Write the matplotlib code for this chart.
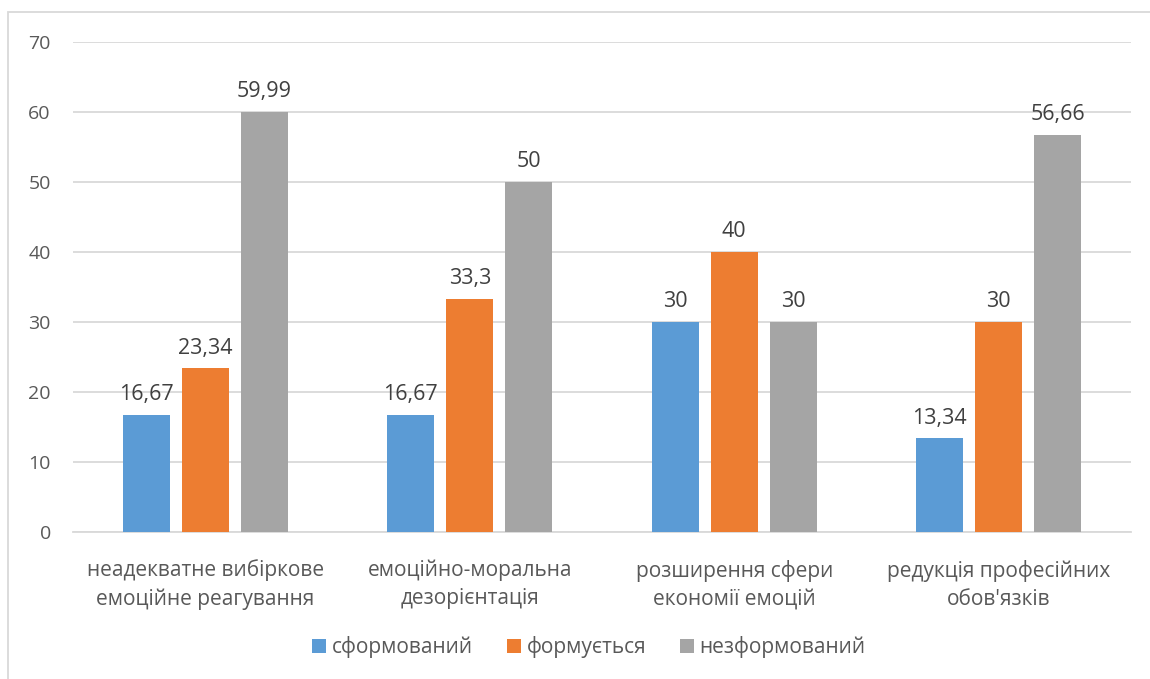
import numpy as np
import matplotlib.pyplot as plt
from matplotlib.patches import Rectangle

# Дані: шкали та рівні сформованості
categories = ['неадекватне вибіркове\nемоційне реагування',
              'емоційно-моральна\nдезорієнтація',
              'розширення сфери\nекономії емоцій',
              'редукція професійних\nобов\'язків']
series_names = ['сформований', 'формується', 'незформований']
sformovanyi = [16.67, 16.67, 30, 13.34]
formuietsia = [23.34, 33.3, 40, 30]
nezformovanyi = [59.99, 50, 30, 56.66]
labels_sf = ['16,67', '16,67', '30', '13,34']
labels_fo = ['23,34', '33,3', '40', '30']
labels_nz = ['59,99', '50', '30', '56,66']
colors = ['#5B9BD5', '#ED7D31', '#A5A5A5']

plt.rcParams['font.family'] = ['Open Sans', 'DejaVu Sans']

fig = plt.figure(figsize=(11.5, 6.79), dpi=100)
ax = fig.add_axes([0.0635, 0.2169, 0.92, 0.7217])

# рамка навколо діаграми
fig.patches.append(Rectangle((8 / 1150, -0.1), 1.2, 0.1 + 667 / 679,
                             transform=fig.transFigure, fill=False,
                             edgecolor='#D9D9D9', linewidth=1.3))

x = np.arange(len(categories))
w = 0.179
step = 0.223
data = [sformovanyi, formuietsia, nezformovanyi]
texts = [labels_sf, labels_fo, labels_nz]
for i, (vals, labs) in enumerate(zip(data, texts)):
    pos = x + (i - 1) * step
    ax.bar(pos, vals, width=w, color=colors[i], label=series_names[i], zorder=3)
    for px, v, t in zip(pos, vals, labs):
        ax.annotate(t, (px, v), xytext=(0, 7), textcoords='offset points',
                    ha='center', va='bottom', fontsize=15.5, color='#404040')

ax.set_xlim(-0.5, 3.5)
ax.set_ylim(0, 70)
ax.set_yticks(range(0, 71, 10))
ax.yaxis.grid(True, color='#D9D9D9', linewidth=1.3, zorder=0)
ax.set_axisbelow(True)
for s in ['top', 'right', 'left']:
    ax.spines[s].set_visible(False)
ax.spines['bottom'].set_color('#D9D9D9')
ax.spines['bottom'].set_linewidth(1.3)
ax.tick_params(axis='both', length=0, labelcolor='#595959')
ax.tick_params(axis='y', pad=16, labelsize=14)
ax.tick_params(axis='x', pad=20, labelsize=15)
ax.set_xticks(x)
ax.set_xticklabels(categories, linespacing=1.45)

leg = fig.legend(loc='center', bbox_to_anchor=(589 / 1150, 1 - 647 / 679), ncol=3,
                 frameon=False, fontsize=15, handlelength=0.67, handleheight=0.67,
                 handletextpad=0.29, columnspacing=1.6)
for t in leg.get_texts():
    t.set_color('#595959')

fig.savefig('out.png', dpi=100)
